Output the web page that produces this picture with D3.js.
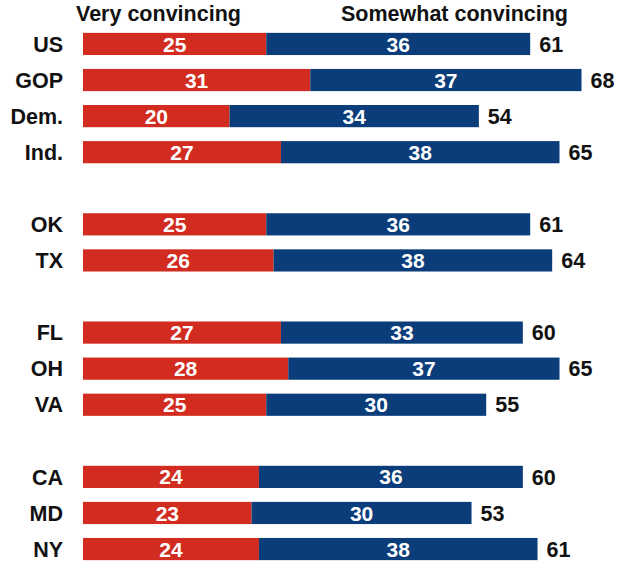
<!DOCTYPE html>
<html>
<head>
<meta charset="utf-8">
<script src="https://cdn.jsdelivr.net/npm/d3@7"></script>
<style>
  html, body { margin: 0; padding: 0; background: #fff; }
  svg { display: block; }
  text { font-family: "Liberation Sans", Arial, sans-serif; font-weight: bold; }
</style>
</head>
<body>
<svg id="chart" width="629" height="562"></svg>
<script>
// Row labels; empty strings are spacer rows between groups
const categories = ["US", "GOP", "Dem.", "Ind.", "", "OK", "TX", "", "FL", "OH", "VA", "", "CA", "MD", "NY"];
const veryConvincing =     [25, 31, 20, 27, null, 25, 26, null, 27, 28, 25, null, 24, 23, 24];
const somewhatConvincing = [36, 37, 34, 38, null, 36, 38, null, 33, 37, 30, null, 36, 30, 38];
const totals =             [61, 68, 54, 65, null, 61, 64, null, 60, 65, 55, null, 60, 53, 61];
const seriesNames = ["Very convincing", "Somewhat convincing"];
const colors = ["#d12c1f", "#0a3d7a"];

const svg = d3.select("#chart");

const x = d3.scaleLinear().domain([0, 68]).range([83, 581.5]);
const y = d3.scaleBand()
  .domain(d3.range(categories.length))
  .range([26, 567])
  .paddingInner(0.385)
  .paddingOuter(0.19);

const rows = categories.map((c, i) => ({
  cat: c, i, v: veryConvincing[i], s: somewhatConvincing[i], t: totals[i]
})).filter(d => d.cat !== "");

// Column headers
svg.append("text").attr("x", 76).attr("y", 21).attr("font-size", 21.5)
  .attr("fill", "#111").text(seriesNames[0]);
svg.append("text").attr("x", 341).attr("y", 21).attr("font-size", 21.5)
  .attr("fill", "#111").text(seriesNames[1]);

const g = svg.append("g");
const row = g.selectAll("g.row").data(rows).join("g").attr("class", "row");
const midY = d => y(d.i) + y.bandwidth() / 2;

// Row labels
row.append("text")
  .attr("x", 63)
  .attr("y", midY)
  .attr("dy", "0.36em")
  .attr("text-anchor", "end")
  .attr("font-size", 21.5)
  .attr("fill", "#111")
  .text(d => d.cat);

// Very convincing segment
row.append("rect")
  .attr("x", x(0))
  .attr("y", d => y(d.i))
  .attr("width", d => x(d.v) - x(0))
  .attr("height", y.bandwidth())
  .attr("fill", colors[0]);

// Somewhat convincing segment
row.append("rect")
  .attr("x", d => x(d.v))
  .attr("y", d => y(d.i))
  .attr("width", d => x(d.v + d.s) - x(d.v))
  .attr("height", y.bandwidth())
  .attr("fill", colors[1]);

// Values inside segments
row.append("text")
  .attr("x", d => (x(0) + x(d.v)) / 2)
  .attr("y", midY)
  .attr("dy", "0.36em")
  .attr("text-anchor", "middle")
  .attr("font-size", 21)
  .attr("fill", "#fff")
  .text(d => d.v);

row.append("text")
  .attr("x", d => (x(d.v) + x(d.v + d.s)) / 2)
  .attr("y", midY)
  .attr("dy", "0.36em")
  .attr("text-anchor", "middle")
  .attr("font-size", 21)
  .attr("fill", "#fff")
  .text(d => d.s);

// Net totals to the right of each bar
row.append("text")
  .attr("x", d => x(d.v + d.s) + 9)
  .attr("y", midY)
  .attr("dy", "0.36em")
  .attr("font-size", 21.5)
  .attr("fill", "#111")
  .text(d => d.t);
</script>
</body>
</html>
